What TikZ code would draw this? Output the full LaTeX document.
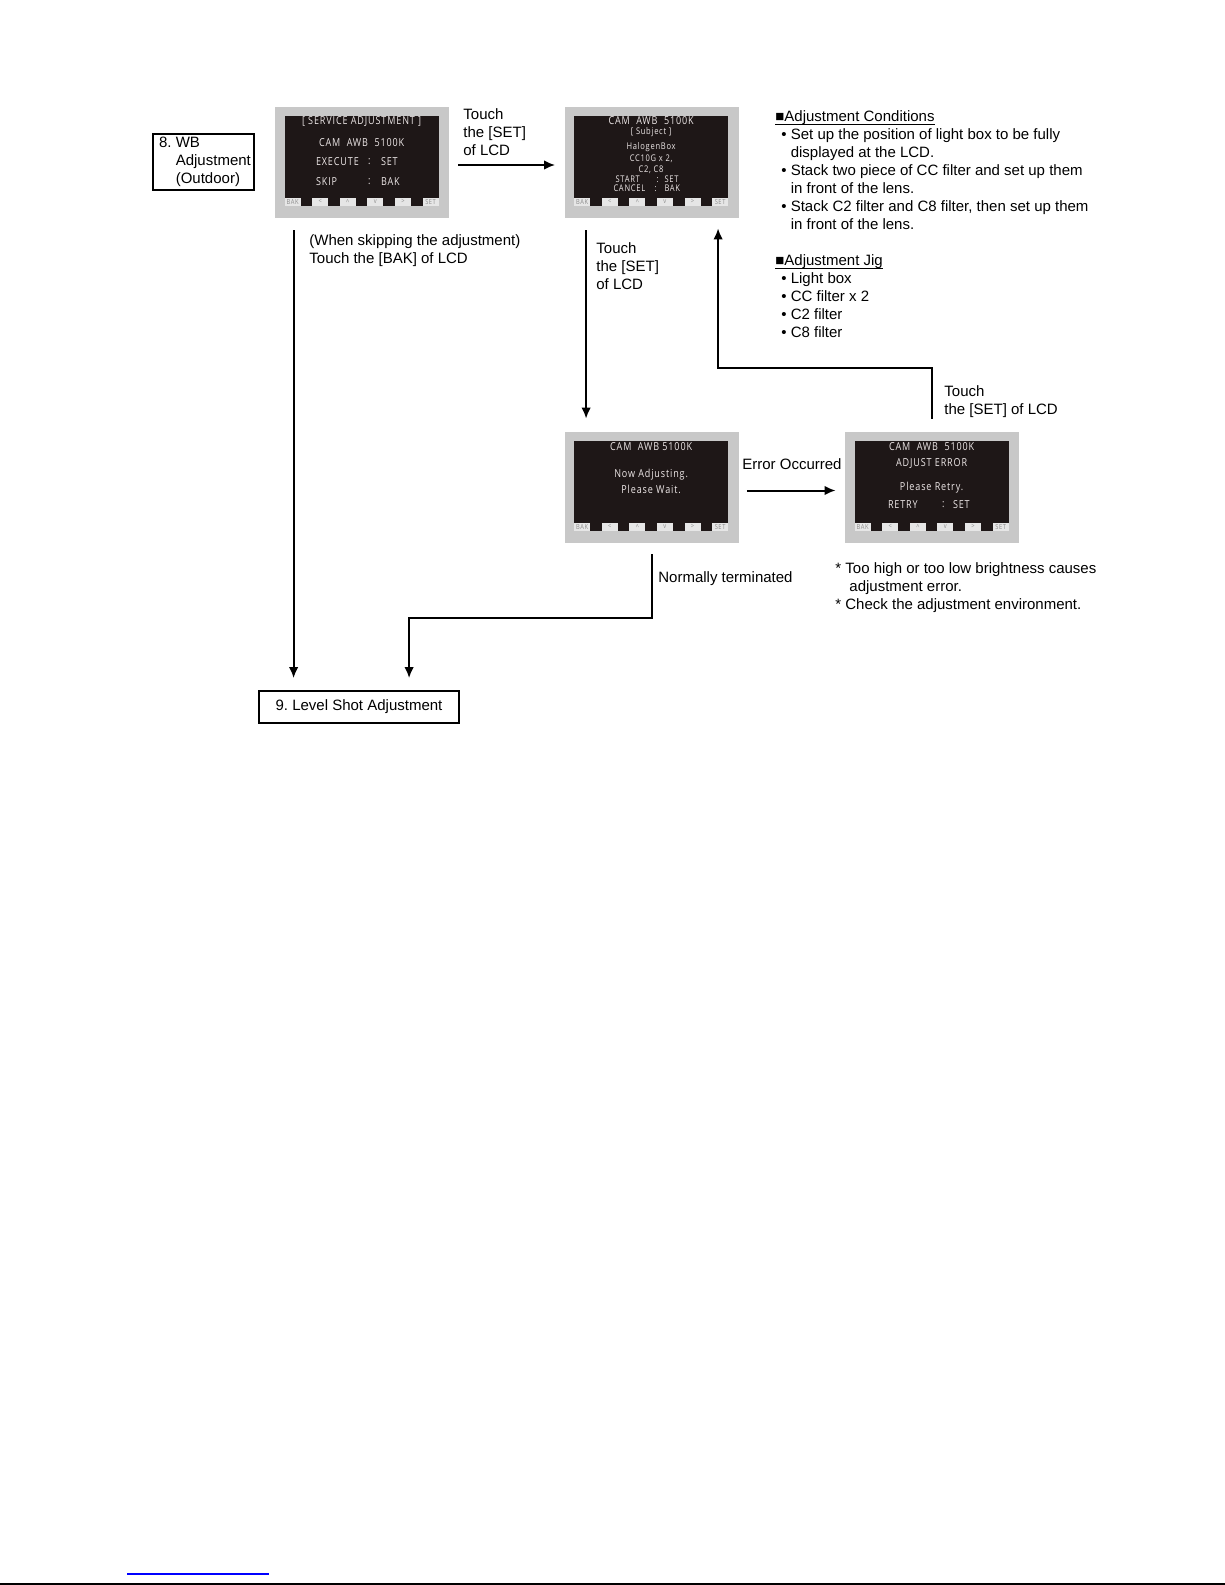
\documentclass[tikz,border=0pt]{standalone}
\usepackage{fontspec}
\setmainfont{Liberation Sans}
\newfontfamily\lcdfont[FakeStretch=0.82,LetterSpace=8]{Open Sans}
\usetikzlibrary{arrows.meta}
\definecolor{lcdgray}{HTML}{C8C8C8}
\definecolor{lcdblack}{HTML}{1E1717}
\definecolor{lcdwhite}{HTML}{EEE8E8}
\definecolor{btnface}{HTML}{E6E6E6}
\definecolor{btntext}{HTML}{8C8C8C}
\tikzset{
  wbbox/.style={draw=black,line width=0.9pt,inner sep=0pt,font=\fontsize{7.5}{9}\selectfont},
  wbarrow/.style={-{Latex[length=5.5pt,width=4.8pt]},line width=1pt},
  wblabel/.style={font=\fontsize{7.5}{9}\selectfont,inner sep=0pt,align=left,anchor=north west},
  lcdframe/.style={fill=lcdgray,minimum width=87pt,minimum height=55.5pt,inner sep=0pt},
  lcdtext/.style={font=\lcdfont\fontsize{5.5}{6}\selectfont,text=lcdwhite,inner sep=0pt},
  lcdsmall/.style={lcdtext,font=\lcdfont\fontsize{4.6}{5}\selectfont},
  lcdbutton/.style={fill=btnface,text=btntext,minimum width=8pt,minimum height=4pt,
    inner sep=0pt,font=\lcdfont\fontsize{3.5}{3.5}\selectfont}
}
\newcommand{\jighead}[1]{\underline{\smash{#1}}\vphantom{#1}}
% screen body, drawn inside a scope shifted to the frame's north west corner
\newcommand{\lcdpanel}[1]{%
  \fill[lcdblack] (10,9) rectangle (164,99);
  \foreach \k/\btn in {0/BAK,1/<,2/\textasciicircum,3/v,4/>,5/SET}
    \node[lcdbutton] (#1-b\k) at (18+27.6*\k,95) {\btn};
}

\begin{document}
\begin{tikzpicture}[x=0.5pt,y=-0.5pt]
  \useasboundingbox (0,0) rectangle (1225,1585);

  \node[wbbox,minimum width=50.5pt,minimum height=28pt,align=left] (wb) at (203.5,162)
    {\hspace*{1.5pt}8.\ WB\\\hspace*{1.5pt}\phantom{8.\ }Adjustment\\\hspace*{1.5pt}\phantom{8.\ }(Outdoor)};
  \node[wbbox,minimum width=100pt,minimum height=16pt] (level) at (359,707)
    {9.\ Level Shot Adjustment};

  \node[lcdframe] (lcd1) at (362,162.5) {};
  \begin{scope}[shift={(lcd1.north west)}]
    \lcdpanel{lcd1}
    \node[lcdtext] (lcd1-t1) at (87,15) {[ SERVICE ADJUSTMENT ]};
    \node[lcdtext] (lcd1-t2) at (87,36) {CAM\ \ AWB\ \ 5100K};
    \node[lcdtext,anchor=west] (lcd1-t3) at (41,55) {EXECUTE};
    \node[lcdtext,anchor=west] (lcd1-t4) at (93,55) {:};
    \node[lcdtext,anchor=west] (lcd1-t5) at (106,55) {SET};
    \node[lcdtext,anchor=west] (lcd1-t6) at (41,75) {SKIP};
    \node[lcdtext,anchor=west] (lcd1-t7) at (93,75) {:};
    \node[lcdtext,anchor=west] (lcd1-t8) at (106,75) {BAK};
  \end{scope}

  \node[lcdframe] (lcd2) at (651.5,162.5) {};
  \begin{scope}[shift={(lcd2.north west)}]
    \lcdpanel{lcd2}
    \node[lcdtext] (lcd2-t1) at (87,14) {CAM\ \ AWB\ \ 5100K};
    \node[lcdsmall] (lcd2-t2) at (87,26) {[ Subject ]};
    \node[lcdsmall] (lcd2-t3) at (87,41) {HalogenBox};
    \node[lcdsmall] (lcd2-t4) at (87,52) {CC10G x 2,};
    \node[lcdsmall] (lcd2-t5) at (87,63) {C2, C8};
    \node[lcdsmall,anchor=west] (lcd2-t6) at (51,73) {START};
    \node[lcdsmall,anchor=west] (lcd2-t7) at (92,73) {:};
    \node[lcdsmall,anchor=west] (lcd2-t8) at (100,73) {SET};
    \node[lcdsmall,anchor=west] (lcd2-t9) at (49,82) {CANCEL};
    \node[lcdsmall,anchor=west] (lcd2-t10) at (90,82) {:};
    \node[lcdsmall,anchor=west] (lcd2-t11) at (100,82) {BAK};
  \end{scope}

  \node[lcdframe] (lcd3) at (651.5,487.5) {};
  \begin{scope}[shift={(lcd3.north west)}]
    \lcdpanel{lcd3}
    \node[lcdtext] (lcd3-t1) at (87,15) {CAM\ \ AWB\ 5100K};
    \node[lcdtext] (lcd3-t2) at (87,43) {Now Adjusting.};
    \node[lcdtext] (lcd3-t3) at (87,58) {Please Wait.};
  \end{scope}

  \node[lcdframe] (lcd4) at (932,487.5) {};
  \begin{scope}[shift={(lcd4.north west)}]
    \lcdpanel{lcd4}
    \node[lcdtext] (lcd4-t1) at (87,15) {CAM\ \ AWB\ \ 5100K};
    \node[lcdtext] (lcd4-t2) at (87,32) {ADJUST ERROR};
    \node[lcdtext] (lcd4-t3) at (87,56) {Please Retry.};
    \node[lcdtext,anchor=west] (lcd4-t4) at (43,73) {RETRY};
    \node[lcdtext,anchor=west] (lcd4-t5) at (97,73) {:};
    \node[lcdtext,anchor=west] (lcd4-t6) at (108,73) {SET};
  \end{scope}

  \node[wblabel] (touch1) at (463,108) {Touch\\the [SET]\\of LCD};
  \node[wblabel] (skipnote) at (309,234) {(When skipping the adjustment)\\Touch the [BAK] of LCD};
  \node[wblabel] (touch2) at (596,242) {Touch\\the [SET]\\of LCD};
  \node[wblabel] (touch3) at (944,385) {Touch\\the [SET] of LCD};
  \node[wblabel] (errlabel) at (742,458) {Error Occurred};
  \node[wblabel] (normlabel) at (658,571) {Normally terminated};
  \node[wblabel] (errnote) at (835,562) {* Too high or too low brightness causes\\
    \hspace*{7pt}adjustment error.\\* Check the adjustment environment.};
  \node[wblabel] (conditions) at (775,110) {\jighead{■Adjustment Conditions}\\
    \hspace*{3pt}• Set up the position of light box to be fully\\
    \hspace*{3pt}\phantom{• }displayed at the LCD.\\
    \hspace*{3pt}• Stack two piece of CC filter and set up them\\
    \hspace*{3pt}\phantom{• }in front of the lens.\\
    \hspace*{3pt}• Stack C2 filter and C8 filter, then set up them\\
    \hspace*{3pt}\phantom{• }in front of the lens.\\[9pt]
    \jighead{■Adjustment Jig}\\
    \hspace*{3pt}• Light box\\
    \hspace*{3pt}• CC filter x 2\\
    \hspace*{3pt}• C2 filter\\
    \hspace*{3pt}• C8 filter};

  \coordinate (skiptop) at ([xshift=9.5pt,yshift=-6pt]lcd1.south west);
  \coordinate (settop) at ([xshift=11pt,yshift=-6pt]lcd2.south west);
  \draw[wbarrow] ([xshift=4.5pt,yshift=-1.25pt]lcd1.east) -- ([xshift=-4.5pt,yshift=-1.25pt]lcd2.west);
  \draw[wbarrow,shorten >=6pt] (skiptop) -- (skiptop |- level.north);
  \draw[wbarrow,shorten >=6.5pt] (settop) -- (settop |- lcd3.north);
  \draw[wbarrow] ([xshift=4pt,yshift=-1.5pt]lcd3.east) -- ([xshift=-4.5pt,yshift=-1.5pt]lcd4.west);
  \draw[wbarrow] ([yshift=6.5pt]lcd4.north) -- ++(0,-51) -| ([xshift=77pt,yshift=-5pt]lcd2.south west);
  \draw[wbarrow] ([yshift=-5.5pt]lcd3.south) -- ++(0,64) -| ([xshift=75.5pt,yshift=6pt]level.north west);

  \draw[blue,line width=1pt] (127,1574) -- (269,1574);
  \draw[line width=1pt] (0,1583.5) -- (1225,1583.5);
\end{tikzpicture}
\end{document}
